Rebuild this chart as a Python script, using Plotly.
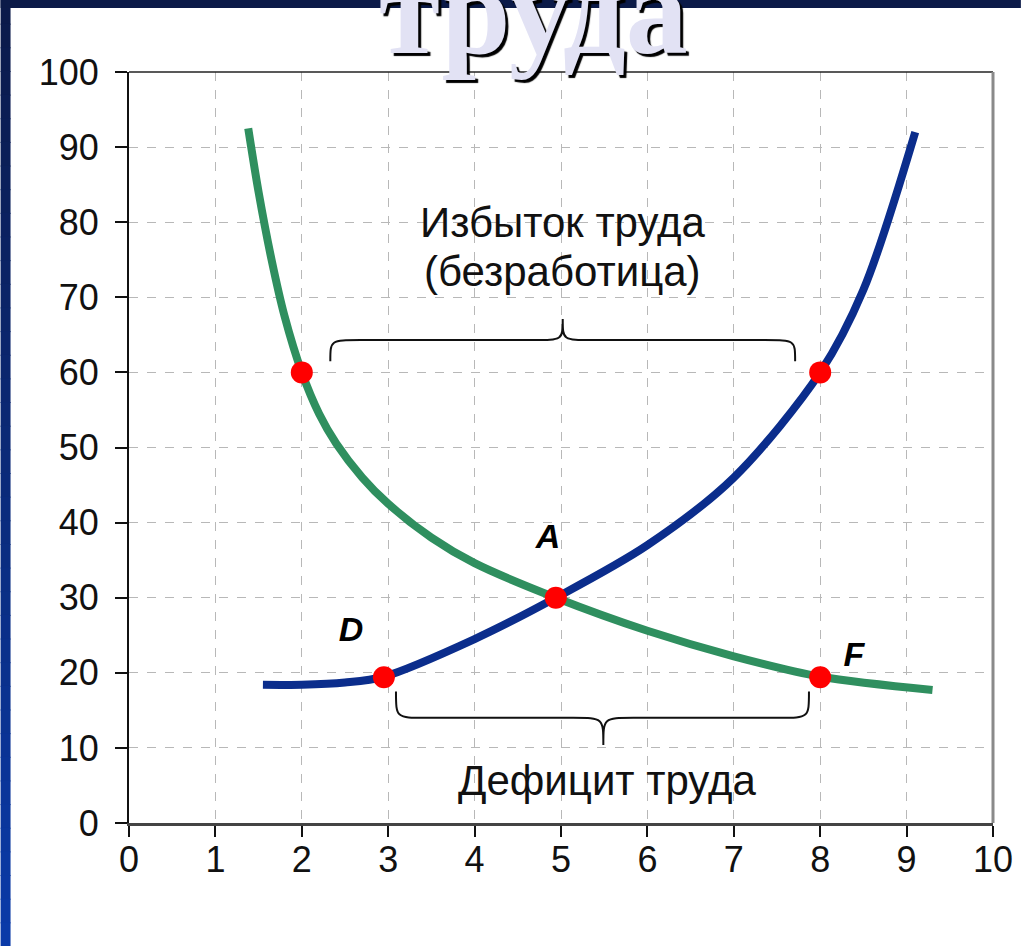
import plotly.graph_objects as go

# ---------------- data ----------------
green_x = [1.38, 1.5, 1.65, 1.8, 2.0, 2.2, 2.4, 2.7, 3.0, 3.5, 4.0, 4.94, 6.0, 7.0, 8.0, 9.3]
green_y = [92.5, 84.0, 75.0, 67.5, 60.0, 54.5, 50.5, 46.0, 42.5, 38.0, 34.6, 30.0, 25.6, 22.2, 19.5, 17.7]

blue_x = [1.55, 2.0, 2.5, 2.95, 4.0, 4.94, 6.0, 7.0, 8.0, 8.5, 9.1]
blue_y = [18.4, 18.4, 18.7, 19.5, 24.5, 30.0, 37.0, 46.0, 60.0, 71.0, 92.0]

point_x = [2.0, 8.0, 4.94, 2.95, 8.0]
point_y = [60.0, 60.0, 30.0, 19.4, 19.4]

letter_text = ["A", "D", "F"]
letter_x = [4.85, 2.57, 8.39]
letter_y = [37.7, 25.4, 22.1]

x_ticks = list(range(0, 11))
y_ticks = list(range(0, 101, 10))

title_text = "труда"
surplus_line1 = "Избыток труда"
surplus_line2 = "(безработица)"
deficit_text = "Дефицит труда"

# brace key points (data units)
top_brace = dict(x0=2.33, x1=7.71, xm=5.02, y_end=61.5, y_bar=64.3, y_tip=67.1)
bot_brace = dict(x0=3.09, x1=7.87, xm=5.49, y_end=17.5, y_bar=14.0, y_tip=10.4)

# ---------------- geometry ----------------
W, H = 1025, 946
ML, MR, MT, MB = 129, 28, 72, 123
PW, PH = W - ML - MR, H - MT - MB


def px2paper_x(px):
    return (px - ML) / PW


def px2paper_y(py):
    return (H - MB - py) / PH


def brace_path(b, r=0.35):
    x0, x1, xm = b["x0"], b["x1"], b["xm"]
    ye, yb, yt = b["y_end"], b["y_bar"], b["y_tip"]
    return (
        f"M {x0},{ye} C {x0},{yb} {x0},{yb} {x0 + r},{yb} "
        f"L {xm - r},{yb} C {xm},{yb} {xm},{yb} {xm},{yt} "
        f"C {xm},{yb} {xm},{yb} {xm + r},{yb} "
        f"L {x1 - r},{yb} C {x1},{yb} {x1},{yb} {x1},{ye}"
    )


fig = go.Figure()

fig.add_trace(go.Scatter(x=green_x, y=green_y, mode="lines",
                         line=dict(color="#2f8f5f", width=8, shape="spline", smoothing=0.9),
                         hoverinfo="skip", showlegend=False))
fig.add_trace(go.Scatter(x=blue_x, y=blue_y, mode="lines",
                         line=dict(color="#0b2d8c", width=8, shape="spline", smoothing=0.9),
                         hoverinfo="skip", showlegend=False))
fig.add_trace(go.Scatter(x=point_x, y=point_y, mode="markers",
                         marker=dict(color="#ff0000", size=22, line=dict(width=0)),
                         hoverinfo="skip", showlegend=False))
fig.add_trace(go.Scatter(x=letter_x, y=letter_y, mode="text", text=letter_text,
                         textfont=dict(family="Liberation Sans", size=34, color="#000000",
                                       weight="bold", style="italic"),
                         hoverinfo="skip", showlegend=False))

shapes = []
# decorative dark frame (top strip + left gradient strip)
n = 40
c_top = (11, 26, 74)
c_bot = (10, 58, 168)
for i in range(n):
    t = i / (n - 1)
    c = tuple(int(round(c_top[k] + (c_bot[k] - c_top[k]) * t)) for k in range(3))
    y0p = H * i / n
    y1p = H * (i + 1) / n + 1
    shapes.append(dict(type="rect", xref="paper", yref="paper",
                       x0=px2paper_x(0), x1=px2paper_x(10),
                       y0=px2paper_y(y1p), y1=px2paper_y(y0p),
                       fillcolor=f"rgb{c}", line=dict(width=0), layer="below"))
shapes.append(dict(type="rect", xref="paper", yref="paper",
                   x0=px2paper_x(0), x1=px2paper_x(W),
                   y0=px2paper_y(8), y1=px2paper_y(0),
                   fillcolor="rgb(11,26,72)", line=dict(width=0), layer="below"))
# plot frame: top black, right grey
shapes.append(dict(type="line", xref="paper", yref="paper", x0=0, x1=1, y0=1, y1=1,
                   line=dict(color="#222222", width=1.5)))
shapes.append(dict(type="line", xref="paper", yref="paper", x0=1, x1=1, y0=0, y1=1,
                   line=dict(color="#8a8a8a", width=3)))
# braces
shapes.append(dict(type="path", xref="x", yref="y", path=brace_path(top_brace),
                   line=dict(color="#111111", width=2)))
shapes.append(dict(type="path", xref="x", yref="y", path=brace_path(bot_brace),
                   line=dict(color="#111111", width=2)))

txt_font = dict(family="Liberation Sans", size=42, color="#111111")
annotations = [
    dict(text=title_text, xref="paper", yref="paper",
         x=px2paper_x(535), y=px2paper_y(50), xanchor="center", yanchor="bottom",
         yshift=-32, showarrow=False,
         font=dict(family="Liberation Serif", size=124, color="#e2e2f4", weight="bold",
                   shadow="3px 3px 1px #000000")),
    dict(text=surplus_line1, x=5.02, y=80.0, xref="x", yref="y", showarrow=False, font=txt_font),
    dict(text=surplus_line2, x=5.02, y=73.4, xref="x", yref="y", showarrow=False, font=txt_font),
    dict(text=deficit_text, x=5.53, y=5.6, xref="x", yref="y", showarrow=False, font=txt_font),
]

fig.update_layout(
    width=W, height=H,
    margin=dict(l=ML, r=MR, t=MT, b=MB, pad=0),
    paper_bgcolor="#ffffff", plot_bgcolor="#ffffff",
    shapes=shapes, annotations=annotations,
    showlegend=False,
)
fig.update_xaxes(range=[0, 10], tickvals=x_ticks, ticktext=[str(v) for v in x_ticks],
                 showgrid=True, gridcolor="#b8b8b8", griddash="dash", gridwidth=1,
                 zeroline=False, showline=True, linecolor="#444444", linewidth=3,
                 ticks="outside", ticklen=11, tickcolor="#111111", tickwidth=2,
                 ticklabelstandoff=-8,
                 tickfont=dict(family="Liberation Sans", size=36, color="#111111"))
fig.update_yaxes(range=[0, 100], tickvals=y_ticks, ticktext=[str(v) for v in y_ticks],
                 showgrid=True, gridcolor="#b8b8b8", griddash="dash", gridwidth=1,
                 zeroline=False, showline=True, linecolor="#111111", linewidth=2,
                 ticks="outside", ticklen=12, tickcolor="#111111", tickwidth=2,
                 ticklabelstandoff=9,
                 tickfont=dict(family="Liberation Sans", size=36, color="#111111"))

fig.write_html("out.html", config={"displayModeBar": False},
               post_script="document.body.style.margin='0';document.body.style.overflow='hidden';")
